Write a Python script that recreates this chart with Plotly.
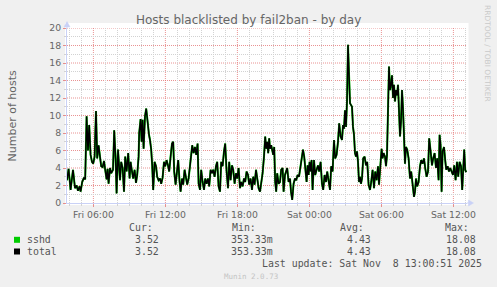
import plotly.graph_objects as go

# ---------------- data ----------------
fri_times = [
    "03:48", "03:56", "04:06", "04:18", "04:28", "04:36", "04:43", "04:51", "04:56", "05:04",
    "05:13", "05:19", "05:26", "05:33", "05:39", "05:46", "05:53", "05:59", "06:06", "06:13",
    "06:19", "06:26", "06:33", "06:39", "06:46", "06:53", "06:59", "07:06", "07:11", "07:16",
    "07:23", "07:29", "07:38", "07:44", "07:51", "07:56", "08:03", "08:08", "08:13", "08:19",
    "08:26", "08:33", "08:39", "08:46", "08:54", "09:01", "09:06", "09:13", "09:19", "09:26",
    "09:33", "09:39", "09:46", "09:49", "09:56", "10:01", "10:06", "10:11", "10:18", "10:24",
    "10:31", "10:38", "10:43", "10:49", "10:54", "10:59", "11:06", "11:13", "11:19", "11:26",
    "11:33", "11:39", "11:46", "11:53", "11:59", "12:06", "12:13", "12:19", "12:26", "12:33",
    "12:39", "12:44", "12:51", "12:58", "13:04", "13:11", "13:16", "13:23", "13:29", "13:36",
    "13:43", "13:49", "13:56", "14:03", "14:09", "14:14", "14:21", "14:28", "14:34", "14:41",
    "14:46", "14:53", "14:59", "15:06", "15:13", "15:19", "15:26", "15:33", "15:39", "15:46",
    "15:53", "15:59", "16:06", "16:13", "16:19", "16:26", "16:33", "16:39", "16:46", "16:53",
    "16:59", "17:06", "17:13", "17:19", "17:26", "17:33", "17:39", "17:46", "17:53", "17:59",
    "18:06", "18:13", "18:19", "18:26", "18:33", "18:39", "18:46", "18:53", "18:59", "19:06",
    "19:13", "19:19", "19:26", "19:33", "19:39", "19:46", "19:53", "19:59", "20:06", "20:13",
    "20:19", "20:24", "20:29", "20:34", "20:39", "20:43", "20:49", "20:59", "21:04", "21:09",
    "21:14", "21:19", "21:26", "21:33", "21:39", "21:46", "21:51", "21:58", "22:04", "22:09",
    "22:16", "22:23", "22:28", "22:34", "22:41", "22:48", "22:54", "23:01", "23:08", "23:14",
    "23:21", "23:28", "23:34", "23:39", "23:46", "23:51", "23:56",
]
fri_values = [
    2.6, 3.9, 1.5, 3.8, 1.7, 2.0, 1.4, 1.9, 1.3, 2.4,
    2.9, 2.7, 9.9, 6.0, 8.9, 5.5, 4.7, 4.5, 5.3, 10.5,
    5.1, 6.6, 5.3, 4.2, 4.1, 4.8, 3.8, 2.7, 3.9, 2.2,
    4.0, 3.4, 3.8, 8.3, 5.1, 1.1, 6.1, 4.5, 2.6, 4.7,
    4.0, 1.3, 5.3, 3.6, 5.7, 2.8, 4.7, 3.6, 2.8, 3.8,
    2.3, 3.2, 5.3, 8.0, 9.6, 7.0, 9.5, 6.2, 9.9, 10.8,
    8.9, 7.8, 7.2, 6.1, 4.3, 1.5, 4.7, 4.2, 3.0, 2.6,
    2.8, 2.2, 2.9, 4.7, 4.2, 4.9, 4.3, 3.6, 5.3, 6.8,
    7.0, 3.6, 2.1, 3.4, 4.9, 2.4, 1.3, 2.8, 2.1, 3.8,
    2.6, 2.1, 2.8, 4.0, 5.5, 6.6, 5.7, 6.4, 5.5, 6.8,
    2.2, 1.5, 3.8, 2.4, 1.5, 2.8, 2.2, 2.8, 1.9, 3.8,
    3.4, 3.8, 3.0, 4.2, 4.7, 1.9, 1.3, 4.7, 4.2, 5.9,
    6.8, 3.6, 1.7, 4.7, 2.6, 4.3, 3.8, 2.2, 3.4, 2.8,
    4.0, 1.7, 2.4, 1.9, 2.8, 2.4, 3.6, 3.2, 2.1, 2.8,
    1.5, 3.0, 2.1, 3.8, 2.8, 1.7, 1.3, 2.2, 3.4, 5.3,
    7.6, 6.2, 7.0, 5.7, 7.4, 6.2, 6.6, 5.5, 6.4, 2.4,
    1.3, 3.4, 2.2, 2.4, 3.8, 4.0, 1.3, 3.2, 3.8, 4.0,
    2.4, 2.8, 1.3, 0.35, 2.2, 2.8, 2.6, 3.2, 3.0, 4.0,
    4.7, 6.1, 5.3, 3.6, 2.4, 4.3, 3.2,
]
sat_times = [
    "00:01", "00:06", "00:11", "00:16", "00:23", "00:29", "00:36", "00:43", "00:49", "00:56",
    "01:03", "01:09", "01:16", "01:23", "01:29", "01:36", "01:43", "01:49", "01:56", "02:03",
    "02:09", "02:16", "02:23", "02:29", "02:36", "02:43", "02:48", "02:53", "02:58", "03:03",
    "03:08", "03:13", "03:18", "03:23", "03:28", "03:33", "03:38", "03:43", "03:48", "03:53",
    "03:58", "04:03", "04:08", "04:13", "04:18", "04:23", "04:29", "04:36", "04:43", "04:49",
    "04:56", "05:03", "05:09", "05:16", "05:23", "05:29", "05:36", "05:43", "05:48", "05:54",
    "06:01", "06:06", "06:11", "06:18", "06:23", "06:28", "06:33", "06:38", "06:43", "06:48",
    "06:53", "06:58", "07:03", "07:08", "07:13", "07:18", "07:23", "07:28", "07:33", "07:38",
    "07:43", "07:48", "07:53", "07:58", "08:03", "08:09", "08:16", "08:23", "08:29", "08:36",
    "08:43", "08:48", "08:53", "08:59", "09:06", "09:13", "09:19", "09:26", "09:33", "09:39",
    "09:46", "09:53", "09:59", "10:06", "10:13", "10:19", "10:26", "10:33", "10:39", "10:46",
    "10:51", "10:56", "11:01", "11:06", "11:13", "11:19", "11:24", "11:31", "11:38", "11:44",
    "11:51", "11:58", "12:04", "12:11", "12:18", "12:24", "12:31", "12:38", "12:44", "12:49",
    "12:54", "12:59", "13:04",
]
sat_values = [
    4.7, 3.6, 4.9, 1.5, 4.9, 3.2, 3.8, 4.3, 3.6, 4.7,
    2.2, 1.5, 3.2, 2.4, 3.6, 2.4, 1.5, 4.2, 3.6, 7.2,
    5.1, 5.5, 7.0, 9.1, 7.6, 7.2, 8.9, 8.5, 10.6, 8.7,
    11.6, 18.08, 15.4, 11.4, 11.2, 11.0, 8.7, 7.8, 5.7, 5.3,
    5.9, 4.7, 2.4, 3.0, 2.2, 2.8, 5.1, 5.3, 4.3, 4.7,
    2.1, 1.5, 2.4, 3.8, 1.7, 3.6, 2.6, 4.2, 2.1, 4.0,
    6.2, 5.1, 5.7, 5.3, 4.2, 5.5, 11.6, 15.6, 12.9, 13.5,
    14.6, 12.0, 13.5, 11.6, 12.9, 12.3, 13.5, 10.8, 7.6, 9.3,
    12.9, 10.8, 7.4, 4.5, 6.4, 6.1, 5.1, 2.8, 3.6, 2.4,
    0.7, 1.3, 2.8, 1.9, 2.4, 4.2, 4.9, 4.5, 5.1, 4.0,
    3.0, 3.6, 7.4, 5.9, 4.3, 5.1, 5.7, 4.0, 5.1, 2.6,
    7.8, 6.6, 1.3, 5.9, 6.4, 4.9, 3.8, 4.2, 3.6, 4.0,
    3.6, 3.2, 4.3, 2.6, 4.7, 3.0, 4.7, 4.2, 1.5, 5.1,
    6.1, 3.8, 3.52,
]
time_range = ["2025-11-07 03:48", "2025-11-08 13:08"]

series_names = ["sshd", "total"]
cur_values = ["3.52", "3.52"]
min_values = ["353.33m", "353.33m"]
avg_values = ["4.43", "4.43"]
max_values = ["18.08", "18.08"]
last_update = "Last update: Sat Nov\u00a0 8 13:00:51 2025"
title_text = "Hosts blacklisted by fail2ban - by day"
y_title = "Number of hosts"

times = ["2025-11-07 " + t for t in fri_times] + ["2025-11-08 " + t for t in sat_times]
sshd_values = fri_values + sat_values
total_values = list(sshd_values)

# ---------------- layout helpers ----------------
W, H = 497, 287
L, R, T, B = 67, 467, 28, 203


def px(x):
    return (x - L) / (R - L)


def py(y):
    return (B - y) / (B - T)


FONT = "DejaVu Sans"
MONO = "DejaVu Sans Mono"
TXT = "#666666"
AXIS = "#C9D1F6"
MGRID = "rgba(225,110,110,0.75)"
GRID = "#D2D2D2"

fig = go.Figure()
fig.add_trace(go.Scatter(x=times, y=sshd_values, mode="lines", name=series_names[0],
                         line=dict(color="#00CC00", width=2.0), hoverinfo="skip"))
fig.add_trace(go.Scatter(x=times, y=total_values, mode="lines", name=series_names[1],
                         line=dict(color="#000000", width=1.5), hoverinfo="skip"))

fig.update_layout(
    width=W, height=H,
    margin=dict(l=L, r=W - R, t=T, b=H - B, pad=0),
    paper_bgcolor="#F0F0F0", plot_bgcolor="#FFFFFF",
    showlegend=False,
    font=dict(family=FONT, color=TXT),
)

# minor (hourly / unit) grid first, major (6 h / 2 units) grid drawn as its own layer on top
fig.update_xaxes(
    type="date", range=time_range,
    tickformat="%a %H:%M", tick0="2025-11-07 00:00", dtick=6 * 3600000,
    showgrid=False,
    ticks="outside", ticklen=3, tickcolor=MGRID,
    tickfont=dict(family=FONT, size=9.3, color=TXT),
    showline=True, linecolor=AXIS, linewidth=1, zeroline=False,
    minor=dict(dtick=3600000, tick0="2025-11-07 00:00", showgrid=True,
               gridcolor=GRID, griddash="1px,1px", ticks="outside", ticklen=2, tickcolor=GRID),
)
fig.update_yaxes(
    range=[0, 20], dtick=2, tick0=0,
    showgrid=False,
    ticks="outside", ticklen=3, tickcolor=MGRID,
    tickfont=dict(family=FONT, size=9.3, color=TXT),
    showline=True, linecolor=AXIS, linewidth=1, zeroline=False,
    minor=dict(dtick=1, showgrid=True, gridcolor=GRID, griddash="1px,1px",
               ticks="outside", ticklen=2, tickcolor=GRID),
)

shapes = []
# white canvas slightly larger than the plotting area
shapes.append(dict(type="rect", xref="paper", yref="paper", layer="below",
                   x0=px(65), x1=px(468.5), y0=py(205), y1=py(23),
                   fillcolor="#FFFFFF", line=dict(width=0)))
# major grid lines (red dotted) at the labelled tick values
major_y = list(range(2, 21, 2))
major_x = ["2025-11-07 06:00", "2025-11-07 12:00", "2025-11-07 18:00",
           "2025-11-08 00:00", "2025-11-08 06:00", "2025-11-08 12:00"]
for v in major_y:
    shapes.append(dict(type="line", xref="paper", yref="y", x0=0, x1=1, y0=v, y1=v,
                       layer="between", line=dict(color=MGRID, width=1, dash="1px,1px")))
for t in major_x:
    shapes.append(dict(type="line", xref="x", yref="paper", x0=t, x1=t, y0=0, y1=1,
                       layer="between", line=dict(color=MGRID, width=1, dash="1px,1px")))
# axis extensions + arrows
shapes.append(dict(type="line", xref="paper", yref="paper", x0=px(67), x1=px(67),
                   y0=py(T), y1=py(24), line=dict(color=AXIS, width=1)))
shapes.append(dict(type="path", xref="paper", yref="paper",
                   path=f"M {px(67)},{py(21.5)} L {px(64)},{py(27)} L {px(70)},{py(27)} Z",
                   fillcolor=AXIS, line=dict(color=AXIS, width=0.5)))
shapes.append(dict(type="line", xref="paper", yref="paper", x0=px(R), x1=px(470),
                   y0=py(203), y1=py(203), line=dict(color=AXIS, width=1)))
shapes.append(dict(type="path", xref="paper", yref="paper",
                   path=f"M {px(473.5)},{py(203)} L {px(468.5)},{py(200)} L {px(468.5)},{py(206)} Z",
                   fillcolor=AXIS, line=dict(color=AXIS, width=0.5)))
# legend swatches
sw_colors = ["#00CC00", "#000000"]
row_y = [239.8, 251.5]
for c, yy in zip(sw_colors, row_y):
    shapes.append(dict(type="rect", xref="paper", yref="paper",
                       x0=px(14), x1=px(20), y0=py(yy + 3), y1=py(yy - 3),
                       fillcolor=c, line=dict(width=0)))
fig.update_layout(shapes=shapes)

ann = []


def text(x, y, s, anchor="left", size=9.9, family=MONO, color="#555555", angle=0):
    ann.append(dict(x=px(x), y=py(y), xref="paper", yref="paper", text=s, showarrow=False,
                    xanchor=anchor, yanchor="middle", textangle=angle,
                    font=dict(family=family, size=size, color=color), borderpad=0))


text(248.5, 19.5, title_text, anchor="center", size=12, family=FONT, color=TXT)
text(12, 115.5, y_title, anchor="center", size=11, family=FONT, color=TXT, angle=-90)
text(487.5, 53.5, "RRDTOOL / TOBI OETIKER", anchor="center", size=7.5, family=FONT,
     color="#CACACA", angle=90)

# legend table
text(153.5, 227.5, "Cur:", anchor="right")
text(257, 227.5, "Min:", anchor="right")
text(365, 227.5, "Avg:", anchor="right")
text(470, 227.5, "Max:", anchor="right")
for i, yy in enumerate(row_y):
    text(26, yy, series_names[i])
    text(160, yy, cur_values[i], anchor="right")
    text(273.5, yy, min_values[i], anchor="right")
    text(371.7, yy, avg_values[i], anchor="right")
    text(476.7, yy, max_values[i], anchor="right")
text(482.5, 263.5, last_update, anchor="right")
text(223, 276.5, "Munin 2.0.73", size=7.5, color="#C4C4C4")

fig.update_layout(annotations=ann)

fig.write_html("out.html")
